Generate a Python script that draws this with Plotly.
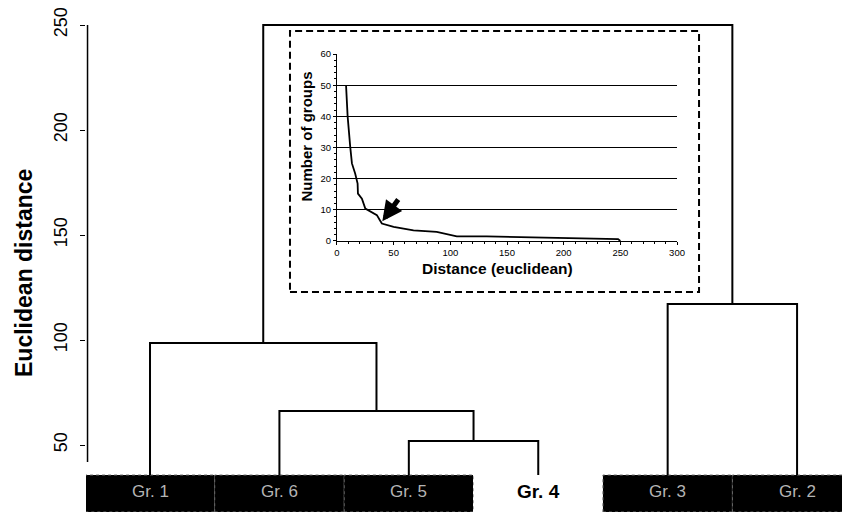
import plotly.graph_objects as go

# ---------------- data ----------------
leaf_labels = ["Gr. 1", "Gr. 6", "Gr. 5", "Gr. 4", "Gr. 3", "Gr. 2"]
highlight_leaf = "Gr. 4"
leaf_base = 35.7          # height where leaf stems start (top of label band)
band_bottom = 18.1

# merges (scipy style): child a, child b, height -> new node id = 6, 7, ...
merge_a = [2, 1, 0, 4, 8]
merge_b = [3, 6, 7, 5, 9]
merge_h = [51.9, 66.2, 98.6, 117.1, 250.0]

y_ticks = [50, 100, 150, 200, 250]

# inset: number of groups vs distance
inset_dist = [8, 9.4, 11.7, 13.2, 16.1, 18.2, 18.5, 22, 25, 30.8, 35.2, 38, 39.6,
              50, 67.5, 88, 105.7, 132, 185, 239, 248, 250]
inset_groups = [50, 40, 30.2, 24.9, 21.6, 18.4, 15.2, 13.6, 10.4, 9.3, 8.3, 6.6, 5.6,
                4.5, 3.4, 2.9, 1.5, 1.5, 1.1, 0.8, 0.6, 0]
arrow_head = (40, 6.3)
arrow_tail = (55, 13.8)

# ---------------- build dendrogram segments ----------------
node_x = {i: float(i) for i in range(len(leaf_labels))}
node_y = {i: leaf_base for i in range(len(leaf_labels))}
seg_x, seg_y = [], []
for k, (a, b, h) in enumerate(zip(merge_a, merge_b, merge_h)):
    nid = len(leaf_labels) + k
    xa, ya, xb, yb = node_x[a], node_y[a], node_x[b], node_y[b]
    seg_x += [xa, xa, xb, xb, None]
    seg_y += [ya, h, h, yb, None]
    node_x[nid] = (xa + xb) / 2
    node_y[nid] = h

FONT = "Liberation Sans, Arial, Helvetica, sans-serif"
NARROW = "Liberation Sans Narrow, Arial Narrow, Liberation Sans, Arial, sans-serif"

fig = go.Figure()
fig.add_trace(go.Scatter(x=seg_x, y=seg_y, mode="lines",
                         line=dict(color="black", width=2), hoverinfo="skip",
                         showlegend=False))

fig.add_trace(go.Scatter(x=inset_dist, y=inset_groups, mode="lines",
                         line=dict(color="black", width=1.8), xaxis="x2", yaxis="y2",
                         hoverinfo="skip", showlegend=False))

shapes = []
annotations = []
# label band
for i, lab in enumerate(leaf_labels):
    hl = lab == highlight_leaf
    shapes.append(dict(type="rect", xref="x", yref="y", x0=i - 0.5, x1=i + 0.5,
                       y0=band_bottom, y1=leaf_base,
                       fillcolor="white" if hl else "black",
                       line=dict(color="white" if hl else "#6a6a6a", width=1, dash="dot"),
                       layer="below"))
    annotations.append(dict(x=i, y=(band_bottom + leaf_base) / 2 + 0.8, xref="x", yref="y",
                            xanchor="center", yanchor="middle",
                            text=f"<b>{lab}</b>" if hl else lab, showarrow=False,
                            font=dict(family=FONT, size=19 if hl else 17,
                                      color="black" if hl else "#b4b4b4")))

# y axis line (partial)
shapes.append(dict(type="line", xref="paper", yref="y", x0=0.002, x1=0.002, y0=41.9, y1=250,
                   line=dict(color="black", width=1.5)))

# dashed inset frame
shapes.append(dict(type="rect", xref="paper", yref="paper", x0=0.267, x1=0.8024,
                   y0=0.4365, y1=0.9544, line=dict(color="black", width=2, dash="7px,4px")))

# main y title
annotations.append(dict(x=-0.0812, y=0.4742, xref="paper", yref="paper",
                        xanchor="center", yanchor="middle",
                        text="<b>Euclidean distance</b>", textangle=-90, showarrow=False,
                        font=dict(family=FONT, size=23, color="black")))
# inset titles
annotations.append(dict(x=0.2886, y=0.746, xref="paper", yref="paper",
                        xanchor="center", yanchor="middle",
                        text="<b>Number of groups</b>", textangle=-90, showarrow=False,
                        font=dict(family=FONT, size=15, color="black")))
annotations.append(dict(x=0.538, y=0.4841, xref="paper", yref="paper",
                        xanchor="center", yanchor="middle",
                        text="<b>Distance (euclidean)</b>", showarrow=False,
                        font=dict(family=FONT, size=15.5, color="black")))
# arrow
annotations.append(dict(x=arrow_head[0], y=arrow_head[1], xref="x2", yref="y2",
                        ax=arrow_tail[0], ay=arrow_tail[1], axref="x2", ayref="y2",
                        text="", showarrow=True, arrowhead=2, arrowsize=0.8,
                        arrowwidth=5, arrowcolor="black"))

fig.update_layout(
    width=842, height=504,
    margin=dict(l=78, r=0, t=0, b=0, autoexpand=False),
    paper_bgcolor="white", plot_bgcolor="white",
    showlegend=False,
    shapes=shapes, annotations=annotations,
    xaxis=dict(range=[-0.4946, 5.409], visible=False, domain=[0, 1]),
    yaxis=dict(range=[band_bottom, 258.1], tickvals=y_ticks, ticks="outside", ticklen=5,
               tickwidth=1, tickcolor="black", showgrid=False, zeroline=False,
               showline=False, tickangle=-90, ticklabelstandoff=6,
               ticklabeloverflow="allow",
               tickfont=dict(family=NARROW, size=18, color="black")),
    xaxis2=dict(domain=[0.3285, 0.7736], anchor="y2", range=[0, 300], dtick=50,
                showline=True, linecolor="black", linewidth=1, ticks="outside",
                ticklen=3, tickcolor="black", showgrid=False, zeroline=False,
                minor=dict(dtick=10, ticks="outside", ticklen=2, tickcolor="black"),
                tickfont=dict(family=FONT, size=9.5, color="black")),
    yaxis2=dict(domain=[0.5377, 0.9087], anchor="x2", range=[0, 60], dtick=10,
                showline=True, linecolor="black", linewidth=1, ticks="outside",
                ticklen=3, tickcolor="black", showgrid=True, gridcolor="black",
                gridwidth=1, zeroline=False,
                minor=dict(dtick=2, ticks="outside", ticklen=2, tickcolor="black"),
                tickfont=dict(family=FONT, size=9.5, color="black")),
)

fig.write_html("out.html")
